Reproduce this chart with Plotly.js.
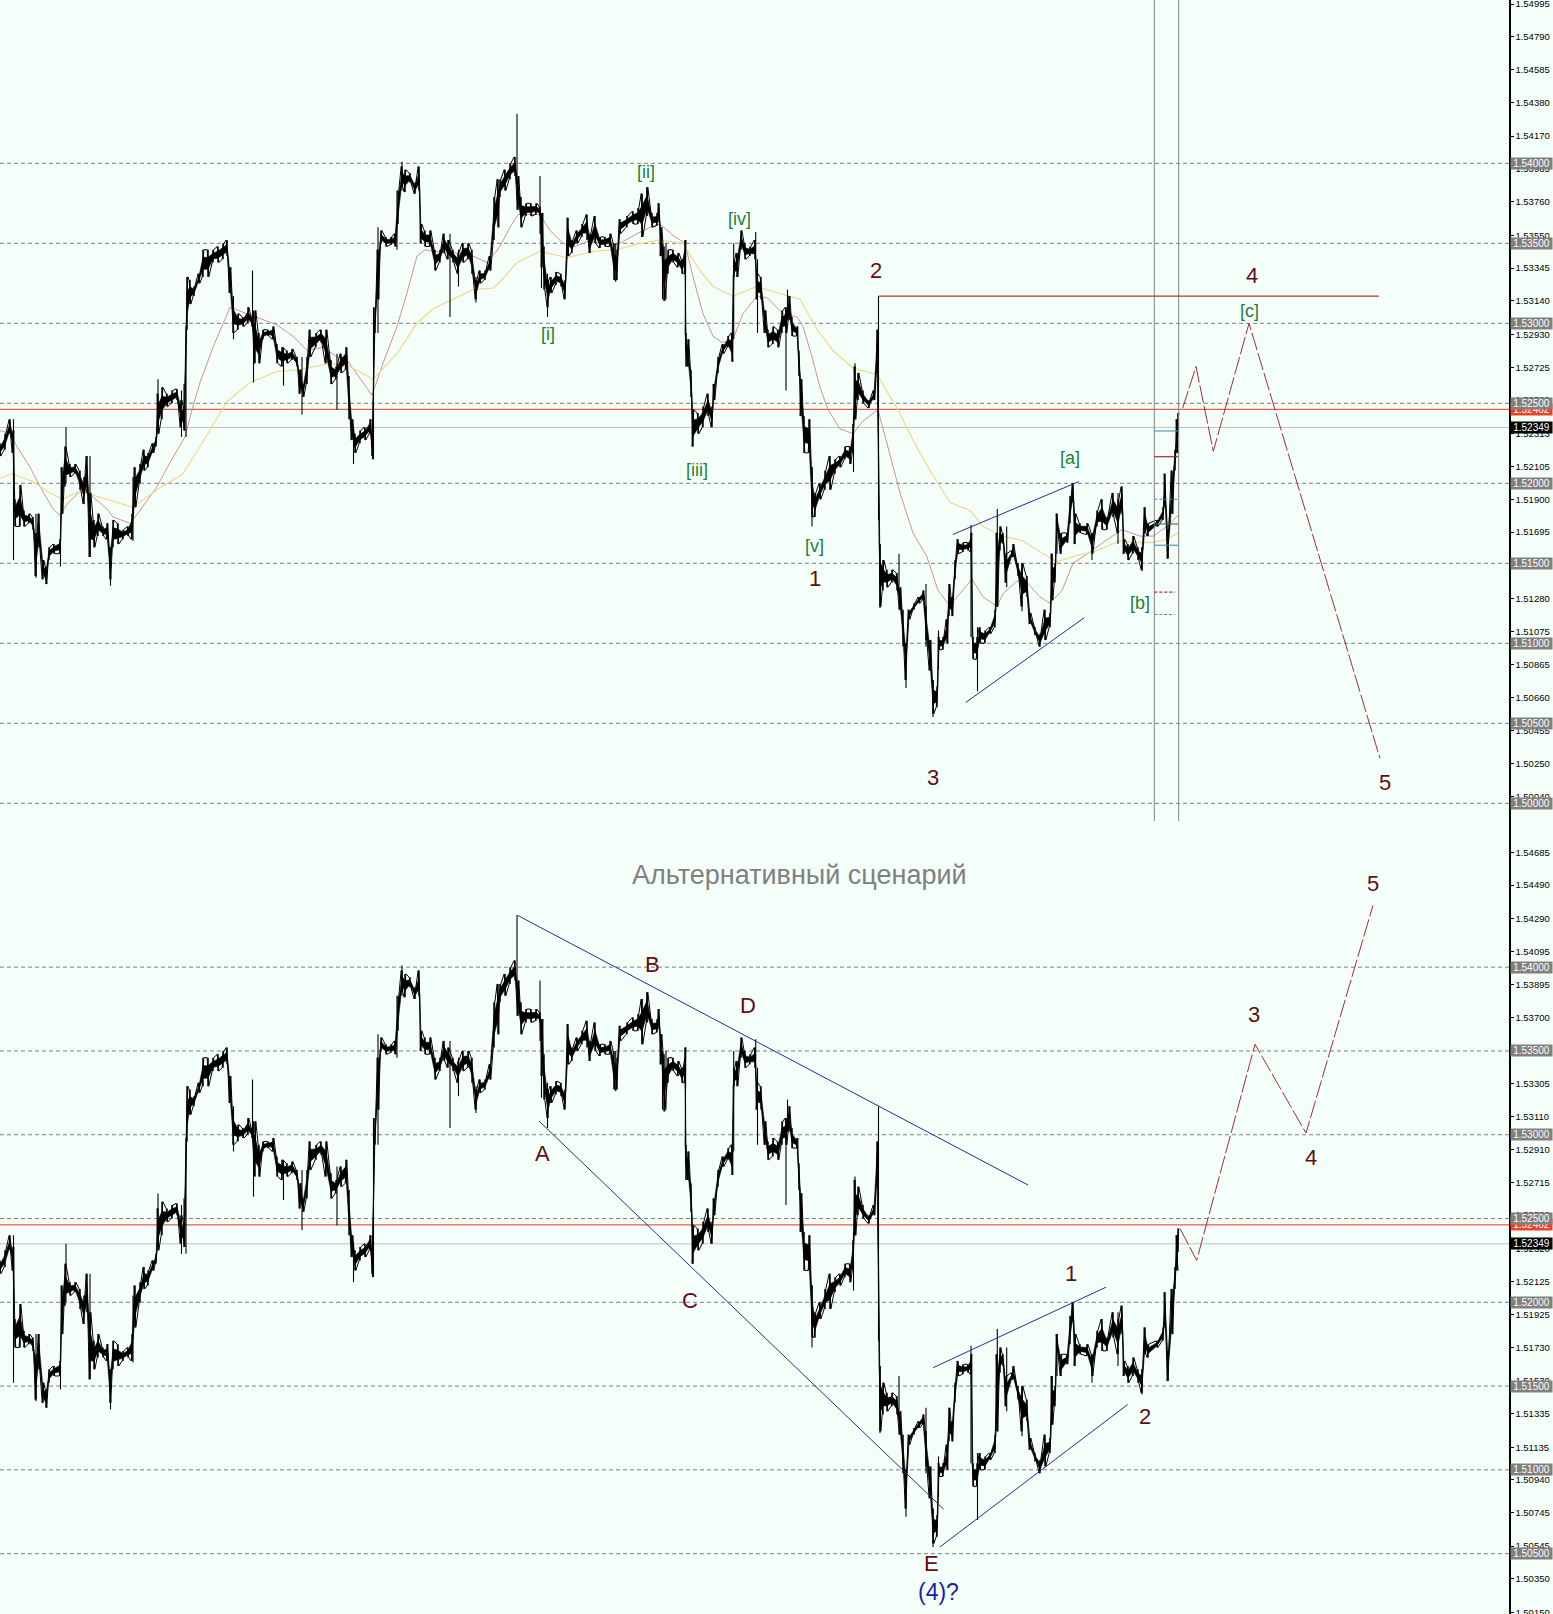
<!DOCTYPE html>
<html><head><meta charset="utf-8">
<script src="https://cdn.plot.ly/plotly-3.0.1.min.js"></script>
<style>html,body{margin:0;padding:0;background:#F5FFFA}#c{width:1553px;height:1614px}</style>
</head><body><div id="c"></div>
<script>
// All price values are pips above 1.5000
const barX=[0,5,10,13,15,20,24,29,33,36,39,43,46,49,54,60,62,65,70,75,80,84,87,90,94,98,103,107,110,113,118,123,128,132,135,140,144,148,153,156,158,162,167,172,177,181,184,187,190,194,199,203,208,213,218,223,227,230,233,238,243,248,252,255,259,263,268,273,277,282,287,292,297,300,303,307,310,316,321,326,331,336,341,346,349,352,355,360,365,370,372,375,378,381,386,391,395,398,402,405,410,415,419,421,425,430,435,440,444,448,453,458,463,468,472,476,480,485,490,494,498,
500,505,510,515,518,521,526,531,536,540,542,544,548,551,556,561,565,568,572,577,582,587,590,595,600,605,610,614,617,620,627,633,638,642,647,652,657,659,661,664,668,673,678,682,685,686,688,691,693,698,703,708,712,714,718,723,728,732,734,737,741,745,750,755,757,761,765,768,773,778,782,786,789,792,797,799,801,804,809,812,815,820,825,830,835,840,845,850,853,855,858,863,869,874,877,
880,883,887,892,897,900,903,906,909,914,919,923,926,930,933,937,939,943,947,949,952,955,958,963,968,971,973,977,980,985,990,995,997,1000,1003,1006,1012,1013,1018,1022,1027,1030,1035,1040,1045,1050,1052,1055,1057,1061,1067,1070,1073,1075,1080,1087,1092,1097,1102,1107,1113,1118,1122,1124,1128,1133,1138,1142,1145,1148,1157,1163,1165,1168,1172,1175,1177,1178];
const barHi=[225,231,240,233,190,199,183,181,179,169,181,152,148,160,162,165,210,223,212,212,208,204,217,194,177,181,173,175,160,177,175,171,173,181,210,212,221,219,225,229,256,260,256,258,259,252,248,329,327,323,331,346,346,346,348,350,352,335,315,306,304,310,304,308,294,296,296,298,287,285,283,284,279,271,262,279,296,294,296,296,277,273,281,285,267,240,231,233,235,240,233,310,346,358,354,354,356,383,398,396,394,388,398,362,358,358,346,346,356,352,346,344,350,350,346,327,333,333,342,379,390,
390,396,400,404,392,379,375,375,375,373,369,348,327,329,332,331,327,366,352,358,362,368,356,367,354,354,356,350,346,365,367,370,372,381,385,369,369,375,360,348,346,346,344,340,352,294,290,271,246,244,248,256,248,262,279,287,292,294,340,344,358,350,348,352,331,329,308,296,298,296,308,310,317,304,298,283,265,242,240,210,194,200,208,217,215,217,223,223,237,273,269,258,252,258,296,
162,152,146,146,144,135,121,100,121,125,129,133,123,102,77,73,104,104,115,137,129,152,165,163,163,169,104,104,110,108,110,121,169,173,169,156,158,162,150,150,142,119,110,106,121,119,156,150,181,169,169,192,200,181,175,175,169,183,190,179,194,190,198,165,162,167,160,160,185,175,177,185,206,171,208,221,240,244];
const barLo=[217,221,231,219,173,173,173,175,171,142,160,140,137,152,156,156,181,198,204,206,196,187,194,154,160,167,167,165,140,160,162,165,167,165,185,200,208,210,219,223,231,240,248,250,252,235,233,296,312,317,325,329,329,338,338,340,342,319,294,296,298,300,298,275,275,290,292,290,275,273,275,277,273,256,254,262,279,285,288,275,262,265,269,271,240,227,219,225,227,231,217,294,315,350,348,349,348,362,385,382,388,381,383,350,348,348,333,338,344,340,338,331,338,340,331,315,325,327,333,352,360,
379,383,390,392,371,360,367,367,368,367,335,321,310,319,324,323,315,342,344,350,354,352,344,350,347,348,348,327,327,356,360,362,362,354,367,360,361,363,342,314,331,338,335,331,331,273,273,254,223,231,235,242,235,252,269,281,285,276,329,329,346,340,342,340,315,315,294,285,287,285,294,294,302,292,292,267,242,219,219,179,179,190,196,196,206,210,215,212,219,240,252,250,247,252,269,
123,133,135,138,133,121,98,77,115,121,125,127,102,83,56,60,96,96,100,117,117,140,156,157,158,157,90,90,100,100,106,110,123,158,162,138,154,154,142,123,129,112,105,98,102,110,127,138,171,156,163,175,188,162,169,168,156,173,171,171,179,169,181,156,152,156,152,146,169,167,173,177,185,153,181,208,219,230];
// thin wicks: position, high, low
const wickX=[13.5,36,60.5,66,90,110.5,133,158,181.5,184,186,233.5,252.5,253.5,283.5,302,337,353.5,372.5,373.5,378,397,402,450,458.5,476,517,540,541.5,547.5,615.7,642,647,662.5,666,685.5,733.7,755.7,757.5,786,787.5,812,853.5,855,878.5,880,899,906,926,933,938.5,971,977.5,997.3,1006.7,1022,1052,1057,1092,1118,1142,1168];
const wickHi=[240,181,162,235,217,160,204,265,258,262,298,317,333,308,285,279,281,235,240,310,360,383,401,356,346,329,431,392,369,331,350,381,385,350,350,352,350,357,340,310,321,210,242,275,317,162,156,100,137,77,108,174,110,184,173,150,156,181,169,194,160,171];
const wickLo=[152,141,148,200,154,136,164,238,229,235,229,290,298,263,261,243,246,212,215,215,294,346,383,304,323,313,392,356,322,304,326,354,367,315,315,283,290,340,294,258,302,173,207,240,177,122,135,72,98,54,84,104,70,123,135,120,127,156,152,162,145,153];

const redMaX=[0,10,15,30,40,47,53,60,67,80,90,107,113,130,140,157,170,185,192,200,213,230,243,260,277,293,307,323,337,347,357,372,383,397,407,417,425,443,460,473,487,500,510,518,540,550,563,575,587,600,617,637,650,660,673,685,693,703,713,722,733,743,757,767,783,797,803,812,820,828,840,853,863,878,890,900,913,927,938,948,953,972,983,997,1003,1017,1027,1040,1050,1062,1073,1090,1103,1122,1140,1153,1167,1178];
const redMaV=[233,231,225,210,198,190,184,180,187,195,193,184,179,175,183,198,213,229,246,263,285,310,307,303,299,292,283,285,279,277,268,255,275,298,319,342,346,344,344,342,338,348,360,368,368,358,350,348,351,350,349,356,360,362,355,350,329,306,292,288,290,306,317,316,306,304,298,279,260,246,234,231,239,246,217,194,169,154,133,125,126,140,129,123,131,139,138,129,125,133,150,157,163,171,167,167,173,180];
const orMaX=[0,12,33,47,62,80,107,133,157,183,200,227,250,277,300,330,350,373,397,417,433,473,493,500,517,540,567,593,617,640,660,683,700,713,733,757,783,800,817,833,853,877,897,913,930,950,970,983,1003,1023,1043,1057,1077,1093,1120,1140,1153,1167,1178];
const orMaV=[203,206,201,195,190,195,190,185,196,206,223,251,263,270,271,275,273,265,281,300,309,321,322,326,338,345,341,345,346,350,352,350,333,323,317,323,318,315,296,283,272,268,247,227,208,188,183,173,167,164,156,151,155,157,164,163,163,165,169];

const gridLevels=[1.54,1.535,1.53,1.525,1.52,1.515,1.51,1.505,1.50];
const gridLabels=['1.54000','1.53500','1.53000','1.52500','1.52000','1.51500','1.51000','1.50500','1.50000'];
const resistance=1.52462, lastPrice=1.52349;
const topTicks=['1.54995','1.54790','1.54585','1.54380','1.54170','1.53965','1.53760','1.53550','1.53345','1.53140','1.52930','1.52725','1.52520','1.52313','1.52105','1.51900','1.51695','1.51490','1.51280','1.51075','1.50865','1.50660','1.50455','1.50250','1.50040'];
const botTicks=['1.54685','1.54490','1.54290','1.54095','1.53895','1.53700','1.53505','1.53305','1.53110','1.52910','1.52715','1.52520','1.52320','1.52125','1.51925','1.51730','1.51530','1.51335','1.51135','1.50940','1.50745','1.50545','1.50350','1.50150'];

const topWaveX=[1182.7,1196,1213.3,1249,1380], topWaveV=[247,273,220,300,28];
const botWaveX=[1180,1196.7,1255,1306,1373], botWaveV=[244,225,354,301,437];
const topTrend=[[952.7,1078.7,168,201],[965.7,1084.3,63,116]];
const botTrend=[[517.3,1028,431,270],[539.3,943.7,308,76.5],[933.3,1106,161,209],[940,1127.7,54,139]];
const resLineX=[878.5,1379], resLineV=317;
const markers=[[232.7,'#4A90B0','solid',1178],[216.6,'#A01818','solid',1178],[190,'#4A90B0','dash',1178],[174.6,'#2F6F4F','solid',1178],[161.3,'#4A90B0','solid',1178],[132,'#B03030','dash',1175],[118,'#4A90B0','dash',1175]];
const vLines=[1154.3,1178.7];

const topLabels=[['[ii]',646,394.4,'g'],['[i]',547.7,293.3,'g'],['[iii]',696.7,208.3,'g'],['[iv]',739.3,365,'g'],['[v]',814.3,161,'g'],['1',815,140.2,'r'],['2',876,332.7,'r'],['3',933,16.1,'r'],['4',1252,329.6,'r'],['[c]',1249,307.7,'g'],['[a]',1070,215.8,'g'],['[b]',1140,125.2,'g'],['5',1385,13.3,'r']];
const botLabels=[['A',542,288.7,'r'],['B',652,401.8,'r'],['D',748,376.9,'r'],['C',690,201.2,'r'],['E',931,44.4,'r'],['(4)?',938,27.3,'b'],['1',1071,217,'r'],['2',1145,131.7,'r'],['3',1254,371.9,'r'],['4',1311,286.2,'r'],['5',1373,449.8,'r']];
const subtitle='Альтернативный сценарий';

const P=v=>1.5+v/1e4;
const BG='#F5FFFA', XMAX=1509, W=1553, H=1614, TOPEND=821;
const FONT='"Liberation Sans", Arial, sans-serif';
const zig=[[],[]];
barX.forEach((x,i)=>{zig[0].push(x-0.8,x+0.8);zig[1].push(P(i%2?barLo[i]:barHi[i]),P(i%2?barHi[i]:barLo[i]));});
const wx=[],wy=[],cx=[],cy=[];
wickX.forEach((x,i)=>{wx.push(x,x,null);wy.push(P(wickHi[i]),P(wickLo[i]),null);});
barX.forEach((x,i)=>{cx.push(x,x,null);cy.push(P(barHi[i]),P(barLo[i]),null);});
// solid core of the band: the inner part of each bar's range
const coreHi=barHi.map((h,i)=>P(h-(h-barLo[i])*0.28));
const coreLo=barLo.map((l,i)=>P(l+(barHi[i]-l)*0.28));
const bandX=barX.concat(barX.slice().reverse());
const bandY=coreHi.concat(coreLo.slice().reverse());

const tr=(x,y,ya,color,width,dash)=>({type:'scatter',mode:'lines',x,y,yaxis:ya,hoverinfo:'skip',showlegend:false,line:{color,width,dash:dash||'solid',shape:'linear'}});
const traces=[];
for(const ya of ['y','y2']){
  for(const g of gridLevels){ if(ya==='y2'&&g<1.5015)continue; traces.push(tr([0,XMAX],[g,g],ya,'#7F7F7F',1,'4px,3px')); }
  traces.push(tr([0,XMAX],[lastPrice,lastPrice],ya,'#C0C0C0',1));
  traces.push(tr([0,XMAX],[resistance,resistance],ya,'#E0623C',1.2));
}
traces.push(tr(redMaX,redMaV.map(P),'y','#CC8484',0.9));
traces.push(tr(orMaX,orMaV.map(P),'y','#EBDC98',1.3));
for(const ya of ['y','y2']){
  const band=tr(bandX,bandY,ya,'#000',0.6); band.fill='toself'; band.fillcolor='#000';
  traces.push(band);
  traces.push(tr(cx,cy,ya,'#000',1.5));
  traces.push(tr(zig[0],zig[1],ya,'#000',1));
  traces.push(tr(wx,wy,ya,'#000',1.1));
}
for(const v of vLines) traces.push(tr([v,v],[1.49889,1.5503],'y','#808080',1));
for(const m of markers) traces.push(tr([1154.3,m[3]],[P(m[0]),P(m[0])],'y',m[1],1.1,m[2]==='dash'?'3px,2px':'solid'));
traces.push(tr(resLineX,[P(resLineV),P(resLineV)],'y','#B03A3A',1.2));
for(const t of topTrend) traces.push(tr([t[0],t[1]],[P(t[2]),P(t[3])],'y','#2A2A90',1));
for(const t of botTrend) traces.push(tr([t[0],t[1]],[P(t[2]),P(t[3])],'y2','#2A2A90',1));
traces.push(tr(topWaveX,topWaveV.map(P),'y','#A52A3A',1,'18px,3px'));
traces.push(tr(botWaveX,botWaveV.map(P),'y2','#A52A3A',1,'18px,3px'));

const COL={r:'#630D14',g:'#1F7F3A',b:'#1C1CA8'};
const anns=[];
const lab=(l,yr)=>anns.push({text:l[0],x:l[1],y:P(l[2]),xref:'x',yref:yr,showarrow:false,xanchor:'center',yanchor:'middle',
  font:{family:FONT,color:COL[l[3]],size:l[3]==='g'?18:(l[3]==='b'?23:22)}});
topLabels.forEach(l=>lab(l,'y'));
botLabels.forEach(l=>lab(l,'y2'));
anns.push({text:subtitle,x:799,y:P(455),xref:'x',yref:'y2',showarrow:false,xanchor:'center',yanchor:'middle',font:{family:FONT,size:27,color:'#808080'}});
const badge=(t,val,yr,bg)=>anns.push({text:t,x:1531.5/W,y:val,xref:'paper',yref:yr,showarrow:false,xanchor:'center',yanchor:'middle',width:41,height:10.5,bgcolor:bg,borderpad:0,font:{family:FONT,size:10,color:'#fff'}});
for(const yr of ['y','y2']){
  badge(resistance.toFixed(5),resistance,yr,'#E8452C');
  gridLevels.forEach((g,i)=>{ if(yr==='y2'&&g<1.5015)return; badge(gridLabels[i],g,yr,'#808080'); });
  badge(lastPrice.toFixed(5),lastPrice,yr,'#000000');
}

const yax=(range,domain,ticks)=>({range,domain,side:'right',anchor:'x',showgrid:false,zeroline:false,showline:true,linecolor:'#000',linewidth:1.5,
  ticks:'outside',ticklen:3,tickcolor:'#000',tickwidth:1,tickmode:'array',tickvals:ticks.map(Number),ticktext:ticks,ticklabeloverflow:'allow',tickfont:{family:FONT,size:9.5,color:'#000'},automargin:false});
const layout={width:W,height:H,margin:{l:0,r:0,t:0,b:0},paper_bgcolor:BG,plot_bgcolor:BG,showlegend:false,
  xaxis:{range:[0,XMAX],domain:[0,XMAX/W],visible:false,fixedrange:true},
  yaxis:yax([1.54-(TOPEND-163.3)/16000,1.54+163.3/16000],[(H-TOPEND)/H,1],topTicks),
  yaxis2:yax([1.54-646/16734,1.54+146/16734],[0,(H-TOPEND)/H],botTicks),
  annotations:anns};
Plotly.newPlot('c',traces,layout,{staticPlot:true,displayModeBar:false});
</script></body></html>
